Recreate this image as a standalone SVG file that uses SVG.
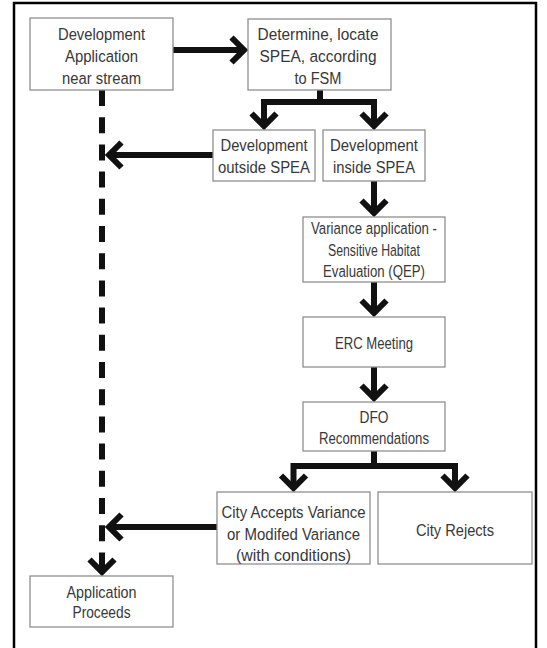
<svg xmlns="http://www.w3.org/2000/svg" xmlns:xlink="http://www.w3.org/1999/xlink" width="547" height="648" viewBox="0 0 547 648">
  <style>
    .frame { fill: none; stroke: #000; stroke-width: 2.5; }
    .box { fill: #fff; stroke: #8f8f8f; stroke-width: 1.3; }
    .lbl { font-family: "Liberation Sans", Arial, sans-serif; font-size: 16.8px; fill: #383838; text-anchor: middle; }
    .wire { fill: none; stroke: #111; stroke-width: 6; stroke-linejoin: miter; stroke-linecap: butt; }
    .dash { fill: none; stroke: #111; stroke-width: 6; stroke-dasharray: 16 11.2; }
    .head { fill: none; stroke: #111; stroke-width: 6; stroke-linejoin: miter; stroke-miterlimit: 10; }
  </style>
  <defs>
    <!-- chevron arrowhead pointing down, visible tip at the origin -->
    <path id="chev" d="M-12.5,-16.5 L0,-4 L12.5,-16.5"/>
  </defs>

  <rect class="frame" x="14" y="3" width="522" height="680"/>

  <g id="connectors">
    <!-- dashed path for applications outside the SPEA -->
    <path class="dash" d="M102,90 V569"/>
    <use href="#chev" class="head" transform="translate(102,576)"/>

    <!-- application -> determine SPEA -->
    <path class="wire" d="M173,50 H244"/>
    <use href="#chev" class="head" transform="translate(248,50) rotate(-90)"/>

    <!-- SPEA split -->
    <path class="wire" d="M320,90 V102 M264,102 H374 M264,99 V126 M374,99 V126"/>
    <use href="#chev" class="head" transform="translate(264,130)"/>
    <use href="#chev" class="head" transform="translate(374,130)"/>

    <!-- outside SPEA -> dashed line -->
    <path class="wire" d="M213,155 H109"/>
    <use href="#chev" class="head" transform="translate(105,155) rotate(90)"/>

    <!-- inside SPEA chain -->
    <path class="wire" d="M374,181 V213"/>
    <use href="#chev" class="head" transform="translate(374,217)"/>
    <path class="wire" d="M374,282 V313"/>
    <use href="#chev" class="head" transform="translate(374,317)"/>
    <path class="wire" d="M374,367 V398"/>
    <use href="#chev" class="head" transform="translate(374,402)"/>

    <!-- DFO split -->
    <path class="wire" d="M374,451 V466 M293.5,466 H455 M293.5,463 V488 M455,463 V488"/>
    <use href="#chev" class="head" transform="translate(293.5,492)"/>
    <use href="#chev" class="head" transform="translate(455,492)"/>

    <!-- accepted variance -> dashed line -->
    <path class="wire" d="M217,527 H109"/>
    <use href="#chev" class="head" transform="translate(105,527) rotate(90)"/>
  </g>

  <g id="dev-application">
    <rect class="box" x="30" y="18" width="143" height="72"/>
    <text class="lbl" x="101.5" y="40" textLength="87" lengthAdjust="spacingAndGlyphs">Development</text>
    <text class="lbl" x="101.5" y="62" textLength="73" lengthAdjust="spacingAndGlyphs">Application</text>
    <text class="lbl" x="101.5" y="84" textLength="79" lengthAdjust="spacingAndGlyphs">near stream</text>
  </g>

  <g id="determine-spea">
    <rect class="box" x="248" y="19" width="143" height="71"/>
    <text class="lbl" x="318" y="40" textLength="121" lengthAdjust="spacingAndGlyphs">Determine, locate</text>
    <text class="lbl" x="318" y="62" textLength="117" lengthAdjust="spacingAndGlyphs">SPEA, according</text>
    <text class="lbl" x="318" y="84" textLength="47" lengthAdjust="spacingAndGlyphs">to FSM</text>
  </g>

  <g id="outside-spea">
    <rect class="box" x="213" y="130" width="102" height="51"/>
    <text class="lbl" x="264" y="151" textLength="87" lengthAdjust="spacingAndGlyphs">Development</text>
    <text class="lbl" x="264" y="173" textLength="92" lengthAdjust="spacingAndGlyphs">outside SPEA</text>
  </g>

  <g id="inside-spea">
    <rect class="box" x="323" y="130" width="102" height="51"/>
    <text class="lbl" x="374" y="151" textLength="88" lengthAdjust="spacingAndGlyphs">Development</text>
    <text class="lbl" x="374" y="173" textLength="82" lengthAdjust="spacingAndGlyphs">inside SPEA</text>
  </g>

  <g id="variance-application">
    <rect class="box" x="303" y="217" width="142" height="65"/>
    <text class="lbl" x="374" y="234" textLength="126" lengthAdjust="spacingAndGlyphs">Variance application -</text>
    <text class="lbl" x="374" y="256" textLength="92" lengthAdjust="spacingAndGlyphs">Sensitive Habitat</text>
    <text class="lbl" x="374" y="277" textLength="102" lengthAdjust="spacingAndGlyphs">Evaluation (QEP)</text>
  </g>

  <g id="erc-meeting">
    <rect class="box" x="303" y="317" width="142" height="50"/>
    <text class="lbl" x="374" y="349" textLength="78" lengthAdjust="spacingAndGlyphs">ERC Meeting</text>
  </g>

  <g id="dfo-recommendations">
    <rect class="box" x="303" y="402" width="142" height="49"/>
    <text class="lbl" x="374" y="423" textLength="29" lengthAdjust="spacingAndGlyphs">DFO</text>
    <text class="lbl" x="374" y="444" textLength="110" lengthAdjust="spacingAndGlyphs">Recommendations</text>
  </g>

  <g id="city-accepts">
    <rect class="box" x="217" y="492" width="153" height="72"/>
    <text class="lbl" x="293.5" y="518" textLength="144" lengthAdjust="spacingAndGlyphs">City Accepts Variance</text>
    <text class="lbl" x="293.5" y="540" textLength="133" lengthAdjust="spacingAndGlyphs">or Modifed Variance</text>
    <text class="lbl" x="293.5" y="561" textLength="115" lengthAdjust="spacingAndGlyphs">(with conditions)</text>
  </g>

  <g id="city-rejects">
    <rect class="box" x="378" y="492" width="154" height="72"/>
    <text class="lbl" x="455" y="536" textLength="78" lengthAdjust="spacingAndGlyphs">City Rejects</text>
  </g>

  <g id="application-proceeds">
    <rect class="box" x="30" y="576" width="143" height="51"/>
    <text class="lbl" x="101.5" y="598" textLength="70" lengthAdjust="spacingAndGlyphs">Application</text>
    <text class="lbl" x="101.5" y="618" textLength="58" lengthAdjust="spacingAndGlyphs">Proceeds</text>
  </g>
</svg>
